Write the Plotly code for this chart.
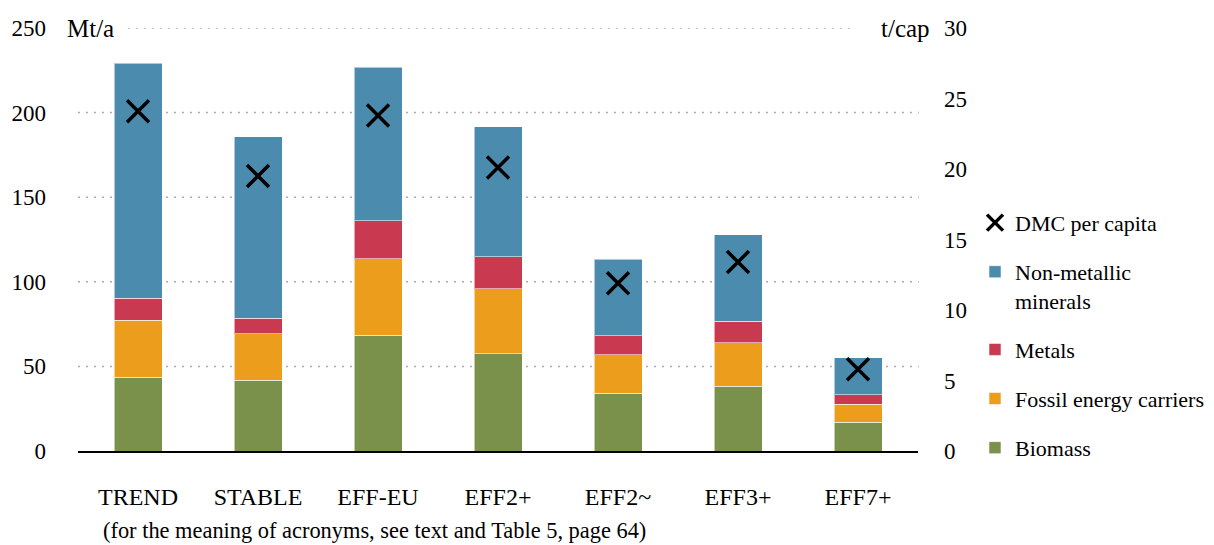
import plotly.graph_objects as go

categories = ["TREND", "STABLE", "EFF-EU", "EFF2+", "EFF2~", "EFF3+", "EFF7+"]
# cumulative tops (Mt/a)
biomass = [43.5, 41.7, 68.3, 57.5, 34.1, 38.2, 16.9]
fossil_top = [77.2, 69.3, 113.6, 95.9, 56.9, 64.0, 27.7]
metals_top = [90.4, 78.6, 136.2, 114.9, 68.1, 76.8, 33.2]
total_top = [229.1, 185.8, 226.7, 191.7, 113.4, 127.7, 55.2]
dmc_per_capita = [24.1, 19.5, 23.8, 20.1, 11.9, 13.4, 5.8]

fossil = [round(f - b, 1) for f, b in zip(fossil_top, biomass)]
metals = [round(m - f, 1) for m, f in zip(metals_top, fossil_top)]
nonmet = [round(t - m, 1) for t, m in zip(total_top, metals_top)]

left_ticks = [0, 50, 100, 150, 200, 250]
right_ticks = [0, 5, 10, 15, 20, 25, 30]

FONT = "Liberation Serif"
C_BIO = "#7A914B"
C_FOS = "#EC9D1B"
C_MET = "#C93A51"
C_NON = "#4B8BAE"

# the page body adds an 8px margin; the figure is sized so the plot sits where the reference has it
W, H = 1206, 537
L, R, T = 70, 296, 20
B = H - 443.4
PW = W - L - R
PH = H - T - B

def px_x(x):
    return (x - 8 - L) / PW

def px_y(y):
    return (H - B - (y - 8)) / PH

fig = go.Figure()
outline = dict(color="rgba(255,255,255,0.55)", width=1)
for name, vals, col, rank in [
    ("Biomass", biomass, C_BIO, 5),
    ("Fossil energy carriers", fossil, C_FOS, 4),
    ("Metals", metals, C_MET, 3),
    ("Non-metallic<br>minerals", nonmet, C_NON, 2),
]:
    fig.add_trace(go.Bar(
        x=categories, y=vals, name=name, marker=dict(color=col, line=outline),
        width=0.4, legendgroup=name, legendrank=rank,
    ))

fig.add_trace(go.Scatter(
    x=categories, y=dmc_per_capita, name="DMC per capita", mode="markers",
    yaxis="y2", legendgroup="dmc", legendrank=1,
    marker=dict(symbol="x-thin", size=22, line=dict(color="black", width=3.5), color="black"),
))

grid = dict(color="#ABABAB", width=1.5, dash="2px,6px")
shapes = []
for v in left_ticks[1:-1]:
    shapes.append(dict(type="line", xref="paper", yref="y", x0=0, x1=1.001, y0=v, y1=v,
                       line=grid, layer="below"))
# top gridline broken by unit labels
shapes.append(dict(type="line", xref="paper", yref="y", x0=px_x(128), x1=px_x(852),
                   y0=left_ticks[-1], y1=left_ticks[-1], line=grid, layer="below"))

annotations = [
    dict(text="Mt/a", xref="paper", yref="y", x=px_x(65), y=250, xanchor="left",
         yanchor="middle", showarrow=False, font=dict(family=FONT, size=25, color="black")),
    dict(text="t/cap", xref="paper", yref="y", x=px_x(932), y=250, xanchor="right",
         yanchor="middle", showarrow=False, font=dict(family=FONT, size=25, color="black")),
    dict(text="(for the meaning of acronyms, see text and Table 5, page 64)", xref="paper",
         yref="paper", x=px_x(101), y=px_y(531), xanchor="left",
         yanchor="middle", showarrow=False, font=dict(family=FONT, size=22.4, color="black")),
]

fig.update_layout(
    width=W, height=H,
    margin=dict(l=L, r=R, t=T, b=B, pad=0, autoexpand=False),
    barmode="stack", bargap=0.6,
    plot_bgcolor="white", paper_bgcolor="white",
    font=dict(family=FONT, size=23, color="black"),
    shapes=shapes, annotations=annotations,
    xaxis=dict(type="category", range=[-0.5, 6.5], showgrid=False, showline=True,
               linecolor="black", linewidth=1.6, ticks="", ticklabelstandoff=23,
               automargin=False, tickfont=dict(family=FONT, size=24, color="black")),
    yaxis=dict(range=[0, 250], tickvals=left_ticks, showgrid=False, zeroline=False,
               showline=False, ticks="", ticklabelstandoff=31, automargin=False,
               tickfont=dict(family=FONT, size=23, color="black")),
    yaxis2=dict(range=[0, 30], tickvals=right_ticks, overlaying="y", side="right",
                showgrid=False, zeroline=False, showline=False, ticks="", automargin=False,
                ticklabelstandoff=25, tickfont=dict(family=FONT, size=23, color="black")),
    legend=dict(x=px_x(975), xanchor="left", y=px_y(202), yanchor="top",
                font=dict(family=FONT, size=22, color="black"), tracegroupgap=17.5,
                valign="top", bgcolor="rgba(0,0,0,0)", traceorder="grouped"),
    showlegend=True,
)

fig.write_html("out.html")
